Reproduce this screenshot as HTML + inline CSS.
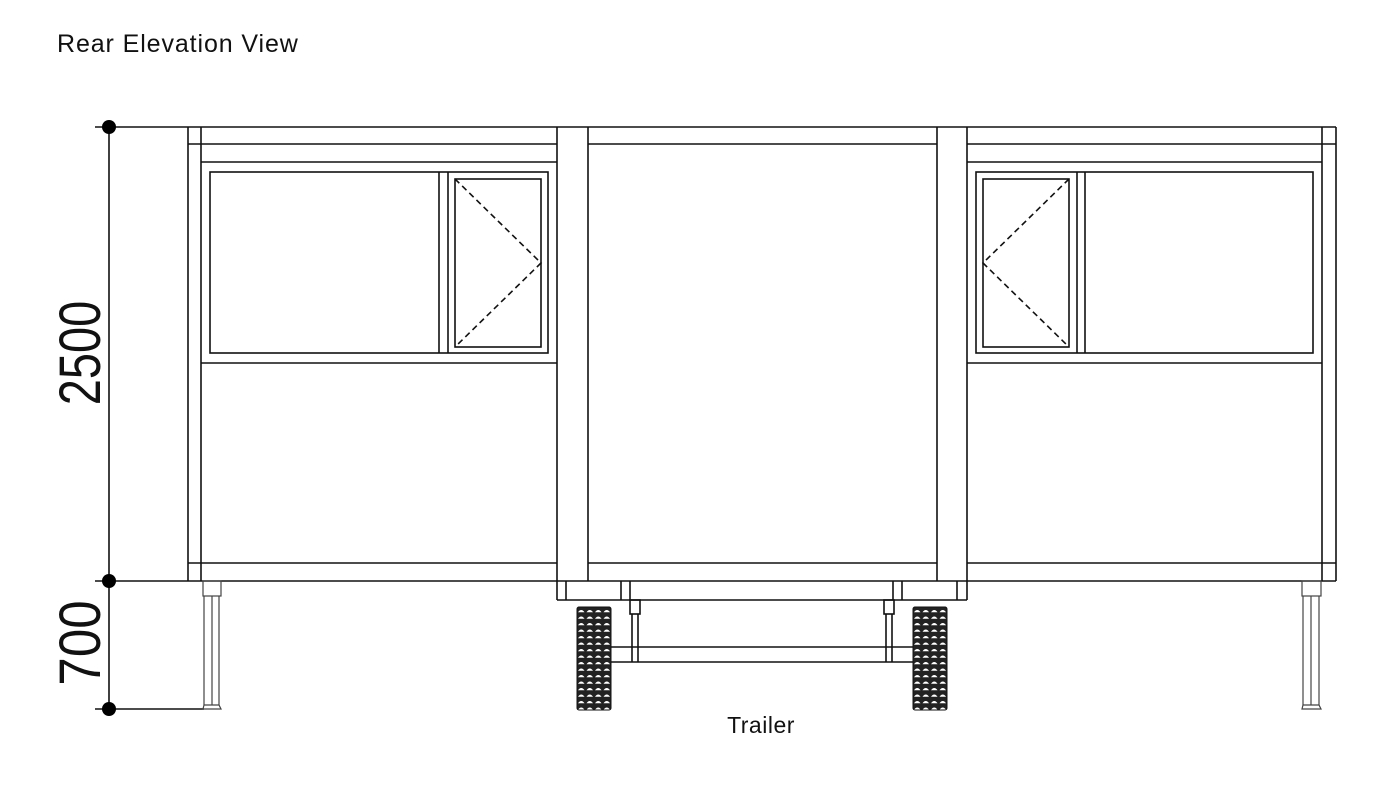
<!DOCTYPE html>
<html><head><meta charset="utf-8"><style>
html,body{margin:0;padding:0;background:#fff;}
svg{display:block;}
</style></head><body>
<svg width="1400" height="800" viewBox="0 0 1400 800" xmlns="http://www.w3.org/2000/svg">
<defs>
<pattern id="tread" x="577" y="607" width="8.5" height="6.5" patternUnits="userSpaceOnUse">
<rect width="8.5" height="6.5" fill="#222"/>
<path d="M1 5.2 Q4.25 0.8 7.5 5.2 Z" fill="#fff"/>
</pattern>
<pattern id="tread2" x="913" y="607" width="8.5" height="6.5" patternUnits="userSpaceOnUse">
<rect width="8.5" height="6.5" fill="#222"/>
<path d="M1 5.2 Q4.25 0.8 7.5 5.2 Z" fill="#fff"/>
</pattern>
</defs>
<text x="57" y="52" font-family="Liberation Sans, sans-serif" font-size="25" letter-spacing="0.9" fill="#111">Rear Elevation View</text>

<g fill="none" stroke="#111" stroke-width="1.6">
<line x1="109" y1="127" x2="109" y2="709"/>
<line x1="95" y1="127" x2="188" y2="127"/>
<line x1="95" y1="581" x2="188" y2="581"/>
<line x1="95" y1="709" x2="204" y2="709"/>

<line x1="188" y1="127" x2="1336" y2="127"/>
<line x1="188" y1="144" x2="557" y2="144"/>
<line x1="588" y1="144" x2="937" y2="144"/>
<line x1="967" y1="144" x2="1336" y2="144"/>
<line x1="201" y1="162" x2="557" y2="162"/>
<line x1="967" y1="162" x2="1322" y2="162"/>
<line x1="188" y1="127" x2="188" y2="581"/>
<line x1="201" y1="127" x2="201" y2="581"/>
<line x1="557" y1="127" x2="557" y2="600"/>
<line x1="588" y1="127" x2="588" y2="581"/>
<line x1="937" y1="127" x2="937" y2="581"/>
<line x1="967" y1="127" x2="967" y2="600"/>
<line x1="1322" y1="127" x2="1322" y2="581"/>
<line x1="1336" y1="127" x2="1336" y2="581"/>
<line x1="201" y1="363" x2="557" y2="363"/>
<line x1="967" y1="363" x2="1322" y2="363"/>
<line x1="188" y1="563" x2="557" y2="563"/>
<line x1="588" y1="563" x2="937" y2="563"/>
<line x1="967" y1="563" x2="1336" y2="563"/>
<line x1="188" y1="581" x2="1336" y2="581"/>

<rect x="210" y="172" width="338" height="181"/>
<line x1="439" y1="172" x2="439" y2="353"/>
<line x1="448" y1="172" x2="448" y2="353"/>
<rect x="455" y="179" width="86" height="168"/>
<polyline points="455,179 541,263 455,347" stroke-dasharray="6,4"/>
<rect x="976" y="172" width="337" height="181"/>
<line x1="1077" y1="172" x2="1077" y2="353"/>
<line x1="1085" y1="172" x2="1085" y2="353"/>
<rect x="983" y="179" width="86" height="168"/>
<polyline points="1069,179 983,263 1069,347" stroke-dasharray="6,4"/>

<line x1="557" y1="600" x2="967" y2="600"/>
<line x1="566" y1="581" x2="566" y2="600"/>
<line x1="621" y1="581" x2="621" y2="600"/>
<line x1="630" y1="581" x2="630" y2="600"/>
<line x1="893" y1="581" x2="893" y2="600"/>
<line x1="902" y1="581" x2="902" y2="600"/>
<line x1="957" y1="581" x2="957" y2="600"/>
<rect x="630" y="600" width="10" height="14"/>
<line x1="632" y1="614" x2="632" y2="662"/>
<line x1="638" y1="614" x2="638" y2="662"/>
<rect x="884" y="600" width="10" height="14"/>
<line x1="886" y1="614" x2="886" y2="662"/>
<line x1="892" y1="614" x2="892" y2="662"/>
<line x1="611" y1="647" x2="913" y2="647"/>
<line x1="611" y1="662" x2="913" y2="662"/>
</g>

<rect x="577" y="607" width="34" height="103" rx="2" fill="url(#tread)" stroke="#111" stroke-width="1"/>
<rect x="913" y="607" width="34" height="103" rx="2" fill="url(#tread2)" stroke="#111" stroke-width="1"/>

<g fill="none" stroke="#444" stroke-width="1.2">
<rect x="203" y="581" width="18" height="15"/>
<line x1="204" y1="596" x2="204" y2="705"/>
<line x1="212" y1="596" x2="212" y2="705"/>
<line x1="219" y1="596" x2="219" y2="705"/>
<path d="M203 709 L204 705 L219 705 L221 709 Z"/>
<rect x="1302" y="581" width="19" height="15"/>
<line x1="1303" y1="596" x2="1303" y2="705"/>
<line x1="1311" y1="596" x2="1311" y2="705"/>
<line x1="1319" y1="596" x2="1319" y2="705"/>
<path d="M1302 709 L1303 705 L1319 705 L1321 709 Z"/>
</g>

<circle cx="109" cy="127" r="7" fill="#000"/>
<circle cx="109" cy="581" r="7" fill="#000"/>
<circle cx="109" cy="709" r="7" fill="#000"/>

<g font-family="Liberation Sans, sans-serif" font-size="58" fill="#111">
<text transform="translate(100,353) rotate(-90) scale(0.81,1)" text-anchor="middle">2500</text>
<text transform="translate(100,643) rotate(-90) scale(0.88,1)" text-anchor="middle">700</text>
</g>
<text x="761" y="733" text-anchor="middle" font-family="Liberation Sans, sans-serif" font-size="23" letter-spacing="0.5" fill="#111">Trailer</text>
</svg>
</body></html>
